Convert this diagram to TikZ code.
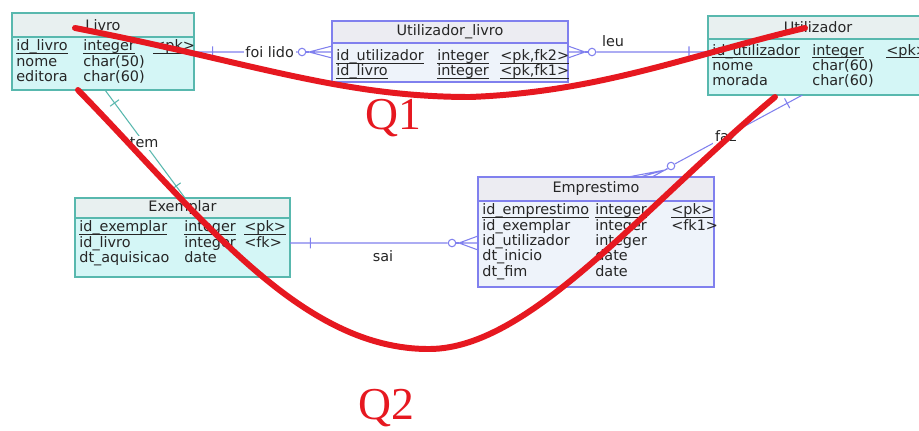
\documentclass[tikz,border=0pt]{standalone}
\usepackage{fontspec}
\setmainfont{DejaVu Sans}
\newfontfamily\qfont{Liberation Serif}
\usetikzlibrary{positioning}
\definecolor{tealb}{RGB}{88,184,174}
\definecolor{blueb}{RGB}{128,128,238}
\definecolor{penred}{RGB}{230,24,32}
\definecolor{tfill}{RGB}{212,246,246}
\definecolor{thead}{RGB}{232,240,240}
\definecolor{bhead}{RGB}{236,236,242}
\definecolor{bfill}{RGB}{238,243,250}
\newcommand\tabfont{\fontsize{8.2}{8.4}\selectfont}
\newcommand\keyf[1]{\underline{\smash{#1}}}

\begin{document}
\begin{tikzpicture}[
    x=0.02cm, y=-0.02cm,
    tabhead/.style={draw=#1, line width=0.8pt, inner sep=0pt, outer sep=0pt, anchor=north west, font=\tabfont, text=black!85},
    tabbody/.style={draw=#1, line width=0.8pt, inner sep=0pt, outer sep=0pt},
    rows/.style={anchor=north west, inner xsep=0.08cm, inner ysep=0.06cm, font=\tabfont, text=black!85},
    relb/.style={draw=blueb, line width=0.6pt},
    relt/.style={draw=tealb, line width=0.6pt},
    ring/.style={circle, draw=blueb, fill=white, line width=0.6pt, inner sep=0pt, minimum size=0.15cm},
    tick/.style={draw=blueb, line width=0.6pt, inner sep=0pt, minimum width=0pt, minimum height=0.22cm, sloped},
    lbl/.style={font=\tabfont, text=black!85, inner sep=1pt},
    pen/.style={draw=penred, line width=3.4pt, line cap=round},
    qlbl/.style={font=\qfont\fontsize{26}{26}\selectfont, text=penred}
]
\path[use as bounding box, fill=white] (0,0) rectangle (919,430);

% tabelas
\node[tabhead=tealb, fill=thead, minimum width=3.64cm, minimum height=0.48cm] (livroH) at (12,13) {Livro};
\node[tabbody=tealb, fill=tfill, minimum width=3.64cm, minimum height=1.06cm, below=0pt of livroH] (livro) {};
\node[rows] (livroR) at (livro.north west) {\begin{tabular}{@{}p{1.34cm}@{}p{1.4cm}@{}l@{}}
\keyf{id\_livro} & \keyf{integer} & \keyf{<pk>}\\
nome & char(50) & \\
editora & char(60) &
\end{tabular}};

\node[tabhead=blueb, fill=bhead, minimum width=4.72cm, minimum height=0.44cm] (ulH) at (332,21) {Utilizador\_livro};
\node[tabbody=blueb, fill=bfill, minimum width=4.72cm, minimum height=0.78cm, below=0pt of ulH] (ul) {};
\node[rows] (ulR) at ([yshift=-0.08cm]ul.north west) {\begin{tabular}{@{}p{2.02cm}@{}p{1.26cm}@{}l@{}}
\keyf{id\_utilizador} & \keyf{integer} & \keyf{<pk,fk2>}\\
\keyf{id\_livro} & \keyf{integer} & \keyf{<pk,fk1>}
\end{tabular}};

\node[tabhead=tealb, fill=thead, minimum width=4.4cm, minimum height=0.46cm] (utilizadorH) at (708,16) {Utilizador};
\node[tabbody=tealb, fill=tfill, minimum width=4.4cm, minimum height=1.12cm, below=0pt of utilizadorH] (utilizador) {};
\node[rows] (utilizadorR) at ([yshift=-0.05cm]utilizador.north west) {\begin{tabular}{@{}p{2.0cm}@{}p{1.48cm}@{}l@{}}
\keyf{id\_utilizador} & \keyf{integer} & \keyf{<pk>}\\
nome & char(60) & \\
morada & char(60) &
\end{tabular}};

\node[tabhead=tealb, fill=thead, minimum width=4.3cm, minimum height=0.40cm] (exemplarH) at (75,198) {Exemplar};
\node[tabbody=tealb, fill=tfill, minimum width=4.3cm, minimum height=1.18cm, below=0pt of exemplarH] (exemplar) {};
\node[rows] (exemplarR) at (exemplar.north west) {\begin{tabular}{@{}p{2.1cm}@{}p{1.2cm}@{}l@{}}
\keyf{id\_exemplar} & \keyf{integer} & \keyf{<pk>}\\
id\_livro & integer & <fk>\\
dt\_aquisicao & date &
\end{tabular}};

\node[tabhead=blueb, fill=bhead, minimum width=4.72cm, minimum height=0.48cm] (emprestimoH) at (478,177) {Emprestimo};
\node[tabbody=blueb, fill=bfill, minimum width=4.72cm, minimum height=1.72cm, below=0pt of emprestimoH] (emprestimo) {};
\node[rows] (emprestimoR) at (emprestimo.north west) {\begin{tabular}{@{}p{2.26cm}@{}p{1.52cm}@{}l@{}}
\keyf{id\_emprestimo} & \keyf{integer} & \keyf{<pk>}\\
id\_exemplar & integer & <fk1>\\
id\_utilizador & integer & \\
dt\_inicio & date & \\
dt\_fim & date &
\end{tabular}};

% relacoes
\node[ring] (o1) at (302,52) {};
\coordinate (f1) at (309,52);
\draw[relb] ([yshift=0.23cm]livro.east) -- node[tick, pos=0.18] {} node[lbl, fill=white, pos=0.73] {foi lido} (o1);
\draw[relb] (o1) -- (f1);
\draw[relb] ([yshift=0.33cm]ul.west) -- (f1) -- ([yshift=0.09cm]ul.west) (f1) -- ([yshift=0.21cm]ul.west);

\node[ring] (o2) at (592,52) {};
\coordinate (f2) at (585,52);
\draw[relb] ([yshift=0.33cm]ul.east) -- (f2) -- ([yshift=0.09cm]ul.east) (f2) -- ([yshift=0.21cm]ul.east);
\draw[relb] (f2) -- (o2);
\draw[relb] (o2) -- node[lbl, above=2pt, pos=0.15] {leu} node[tick, pos=0.83] {} ([yshift=0.30cm]utilizador.west);

\draw[relt] ([xshift=0.04cm]livro.south) -- node[tick, draw=tealb, pos=0.12] {} node[lbl, fill=white, pos=0.49] {tem} node[tick, draw=tealb, pos=0.89] {} ([xshift=0.05cm]exemplarH.north);

\node[ring] (o4) at (452,243) {};
\coordinate (f4) at (459,243);
\draw[relb] ([yshift=0.09cm]exemplar.east) -- node[tick, pos=0.13] {} node[lbl, below=3pt, pos=0.59] {sai} (o4);
\draw[relb] (o4) -- (f4);
\draw[relb] ([yshift=0.16cm]emprestimo.west) -- (f4) -- ([yshift=-0.12cm]emprestimo.west) (f4) -- ([yshift=0.02cm]emprestimo.west);

\node[ring] (o5) at (671,166) {};
\coordinate (f5) at (665,170);
\draw[relb] ([xshift=0.64cm]emprestimoH.north) -- (f5) -- ([xshift=1.12cm]emprestimoH.north) (f5) -- ([xshift=0.88cm]emprestimoH.north);
\draw[relb] (f5) -- (o5);
\draw[relb] (o5) -- node[lbl, fill=white, pos=0.4] {faz} node[tick, pos=0.88] {} ([xshift=-0.31cm]utilizador.south);

% marcas a vermelho
\draw[pen] (75,28) .. controls (250,62) and (340,97) .. (470,97) .. controls (600,92) and (690,55) .. (805,28);
\draw[pen] (78,90) .. controls (200,215) and (300,350) .. (430,349) .. controls (530,348) and (640,210) .. (775,97);
\node[qlbl] (q1) at (393,118) {Q1};
\node[qlbl] (q2) at (386,408) {Q2};
\end{tikzpicture}
\end{document}
